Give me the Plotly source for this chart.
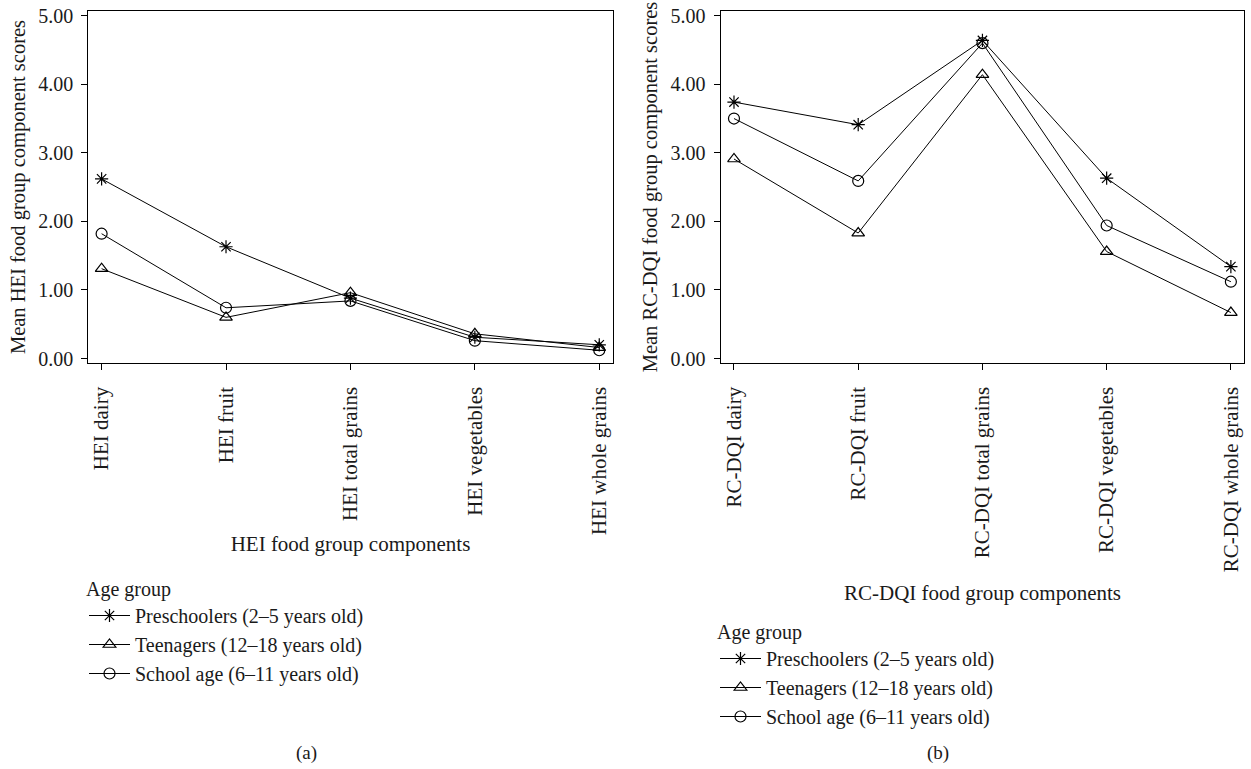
import plotly.graph_objects as go

W, H = 1251, 769

hei_categories = ["HEI dairy", "HEI fruit", "HEI total grains", "HEI vegetables", "HEI whole grains"]
rcdqi_categories = ["RC-DQI dairy", "RC-DQI fruit", "RC-DQI total grains", "RC-DQI vegetables", "RC-DQI whole grains"]

series_names = ["Preschoolers (2\u20135 years old)", "Teenagers (12\u201318 years old)", "School age (6\u201311 years old)"]

hei_preschool = [2.62, 1.63, 0.88, 0.31, 0.20]
hei_teen = [1.31, 0.60, 0.96, 0.36, 0.16]
hei_school = [1.82, 0.74, 0.84, 0.26, 0.12]

rcdqi_preschool = [3.74, 3.41, 4.64, 2.63, 1.34]
rcdqi_teen = [2.91, 1.83, 4.14, 1.56, 0.67]
rcdqi_school = [3.50, 2.59, 4.60, 1.94, 1.12]

symbols = ["asterisk-open", "triangle-up-open", "circle-open"]

FONT = "Liberation Serif"
TXT = "#1a1a1a"


def px(x_abs):
    return x_abs / W


def py(y_abs):
    return 1 - y_abs / H


fig = go.Figure()

hei_series = [hei_preschool, hei_teen, hei_school]
rc_series = [rcdqi_preschool, rcdqi_teen, rcdqi_school]

for name, vals, sym in zip(series_names, hei_series, symbols):
    fig.add_trace(go.Scatter(
        x=list(range(len(hei_categories))), y=vals, name=name, mode="lines+markers",
        line=dict(color="black", width=1),
        marker=dict(symbol=sym, size=11, color="black", line=dict(color="black", width=1.2)),
        xaxis="x", yaxis="y", legend="legend"))

for name, vals, sym in zip(series_names, rc_series, symbols):
    fig.add_trace(go.Scatter(
        x=list(range(len(rcdqi_categories))), y=vals, name=name, mode="lines+markers",
        line=dict(color="black", width=1),
        marker=dict(symbol=sym, size=11, color="black", line=dict(color="black", width=1.2)),
        xaxis="x2", yaxis="y2", legend="legend2"))

ydom = [py(363.3), py(10.7)]
xdom1 = [px(88.3), px(612.7)]
xdom2 = [px(720.7), px(1244.3)]

common_x = dict(range=[-0.107, 4.108], showline=True, linecolor="black", linewidth=1.2,
                mirror=True, ticks="outside", ticklen=6, tickcolor="black", tickwidth=1,
                tickangle=-90, showgrid=False, zeroline=False, automargin=False,
                tickfont=dict(family=FONT, size=21, color=TXT),
                ticklabelstandoff=8, tickmode="array", tickvals=list(range(5)))
common_y = dict(range=[-0.07, 5.073], showline=True, linecolor="black", linewidth=1.2,
                mirror=True, ticks="outside", ticklen=6, tickcolor="black", tickwidth=1,
                dtick=1, tick0=0, tickformat=".2f", showgrid=False, zeroline=False,
                automargin=False, tickfont=dict(family=FONT, size=20, color=TXT),
                ticklabelstandoff=4)

legend_common = dict(xanchor="left", yanchor="top",
                     title=dict(text="Age group", font=dict(family=FONT, size=20, color=TXT)),
                     font=dict(family=FONT, size=20, color=TXT), bgcolor="rgba(0,0,0,0)",
                     tracegroupgap=0, itemwidth=41)

fig.update_layout(
    width=W, height=H, autosize=False,
    margin=dict(l=0, r=0, t=0, b=0),
    paper_bgcolor="white", plot_bgcolor="white",
    font=dict(family=FONT, size=20, color=TXT),
    xaxis=dict(common_x, domain=xdom1, anchor="y", ticktext=hei_categories,
               title=dict(text="HEI food group components", standoff=2,
                          font=dict(family=FONT, size=21, color=TXT))),
    yaxis=dict(common_y, domain=ydom, anchor="x",
               title=dict(text="Mean HEI food group component scores", standoff=7,
                          font=dict(family=FONT, size=20.5, color=TXT))),
    xaxis2=dict(common_x, domain=xdom2, anchor="y2", ticktext=rcdqi_categories,
                title=dict(text="RC-DQI food group components", standoff=14,
                           font=dict(family=FONT, size=21, color=TXT))),
    yaxis2=dict(common_y, domain=ydom, anchor="x2",
                title=dict(text="Mean RC-DQI food group component scores", standoff=7,
                           font=dict(family=FONT, size=20.5, color=TXT))),
    legend=dict(legend_common, x=px(84), y=py(570)),
    legend2=dict(legend_common, x=px(715), y=py(613)),
    annotations=[
        dict(text="(a)", x=px(306.7), y=py(753), xref="paper", yref="paper",
             xanchor="center", yanchor="middle",
             showarrow=False, font=dict(family=FONT, size=19, color=TXT)),
        dict(text="(b)", x=px(938), y=py(753), xref="paper", yref="paper",
             xanchor="center", yanchor="middle",
             showarrow=False, font=dict(family=FONT, size=19, color=TXT)),
    ],
)

fig.write_html(
    "out.html",
    config={"displayModeBar": False},
    post_script="document.body.style.margin='0px';document.body.style.overflow='hidden';",
)
